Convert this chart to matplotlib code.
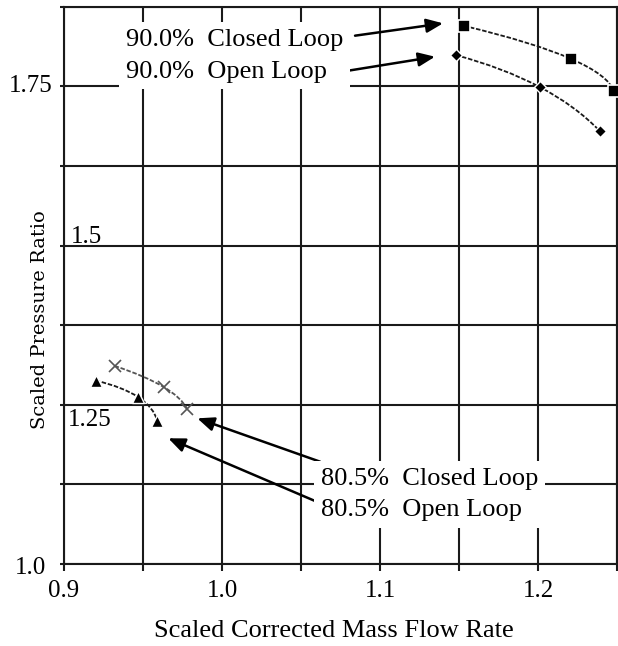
import numpy as np
import matplotlib
matplotlib.use("Agg")
import matplotlib.pyplot as plt
from matplotlib.path import Path
from matplotlib.patches import PathPatch

# compressor map points
closed90_x = [1.153, 1.221, 1.248]
closed90_y = [1.845, 1.793, 1.742]
open90_x = [1.148, 1.201, 1.239]
open90_y = [1.799, 1.749, 1.680]
closed805_x = [0.932, 0.963, 0.978]
closed805_y = [1.311, 1.278, 1.243]
open805_x = [0.920, 0.947, 0.959]
open805_y = [1.288, 1.262, 1.2245]

xtick_vals = [0.9, 1.0, 1.1, 1.2]
xtick_text = ["0.9", "1.0", "1.1", "1.2"]
ytick_vals = [1.0, 1.25, 1.5, 1.75]
ytick_text = ["1.0", "1.25", "1.5", "1.75"]

SERIF = "Liberation Serif"
INK = "#1a1a1a"


def smooth_path(xs, ys):
    # bezier through the points, parabolic ends (like a spreadsheet "smoothed line")
    pts = np.column_stack([xs, ys]).astype(float)
    n = len(pts)
    tang = np.zeros_like(pts)
    for i in range(1, n - 1):
        tang[i] = (pts[i + 1] - pts[i - 1]) / 2.0
    tang[0] = 2 * (pts[1] - pts[0]) - tang[1]
    tang[-1] = 2 * (pts[-1] - pts[-2]) - tang[-2]
    verts = [pts[0]]
    codes = [Path.MOVETO]
    for i in range(n - 1):
        verts += [pts[i] + tang[i] / 3.0, pts[i + 1] - tang[i + 1] / 3.0, pts[i + 1]]
        codes += [Path.CURVE4] * 3
    return Path(verts, codes)


fig = plt.figure(figsize=(6.18, 6.46), dpi=100)
ax = fig.add_axes([64 / 618, 1 - 564 / 646, 553 / 618, 557.3 / 646])

ax.set_xlim(0.9, 1.25)
ax.set_ylim(1.0, 1.875)
ax.set_xticks(np.arange(0.9, 1.2501, 0.05))
ax.set_yticks(np.arange(1.0, 1.8751, 0.125))
ax.grid(True, color=INK, linewidth=1.5)
ax.set_axisbelow(True)
for sp in ax.spines.values():
    sp.set_color(INK)
    sp.set_linewidth(1.5)
ax.tick_params(axis="x", length=5, width=1.5, color=INK, labelbottom=False)
ax.tick_params(axis="y", length=3, width=1.5, color=INK, labelleft=False)

# tick labels, placed like in the original (some sit inside the plot)
for v, t in zip(xtick_vals, xtick_text):
    ax.annotate(t, (v, 1.0), xytext=(0, -27), textcoords="offset pixels",
                ha="center", va="center", fontsize=18, family=SERIF)
y_offsets = [(-34, -4), (26, -15), (22, 9), (-33, 0)]
for v, t, off in zip(ytick_vals, ytick_text, y_offsets):
    ax.annotate(t, (0.9, v), xytext=off, textcoords="offset pixels",
                ha="center", va="center", fontsize=18, family=SERIF)

# curves
for xs, ys, col in [(closed90_x, closed90_y, INK), (open90_x, open90_y, INK),
                    (open805_x, open805_y, INK), (closed805_x, closed805_y, "#555555")]:
    ax.add_patch(PathPatch(smooth_path(xs, ys), fill=False, edgecolor=col,
                           linewidth=1.3, linestyle=(0, (2.5, 1)), zorder=3))

ax.plot(closed90_x, closed90_y, "s", ms=9, color="black", mec="white", mew=1.2, zorder=4, clip_on=False)
ax.plot(open90_x, open90_y, "D", ms=6.5, color="black", mec="white", mew=1.0, zorder=4)
ax.plot(open805_x, open805_y, "^", ms=9, color="black", mec="white", mew=1.0, zorder=4)
ax.plot(closed805_x, closed805_y, "x", ms=8, color="#555555", mew=1.2, zorder=4)

# labels with arrows
arrow = dict(arrowstyle="-|>,head_length=1.0,head_width=0.42", color="black",
             linewidth=1.8, shrinkA=0, shrinkB=0)
ax.annotate("", xy=(1.1399, 1.8489), xytext=(1.0842, 1.8295), arrowprops=arrow, zorder=5)
ax.annotate("", xy=(1.1348, 1.7965), xytext=(1.0758, 1.7729), arrowprops=arrow, zorder=5)
ax.annotate("", xy=(0.9844, 1.2287), xytext=(1.0621, 1.1606), arrowprops=arrow, zorder=5)
ax.annotate("", xy=(0.9660, 1.1974), xytext=(1.0589, 1.0989), arrowprops=arrow, zorder=5)

box = dict(facecolor="white", edgecolor="none", pad=5)
ax.text(0.9392, 1.7978, "90.0%  Closed Loop\n90.0%  Open Loop", fontsize=19, family=SERIF,
        ha="left", va="center", linespacing=1.55, bbox=box, zorder=6)
ax.text(1.0628, 1.1096, "80.5%  Closed Loop\n80.5%  Open Loop", fontsize=19, family=SERIF,
        ha="left", va="center", linespacing=1.55, bbox=box, zorder=6)

fig.text(334 / 618, 1 - 631 / 646, "Scaled Corrected Mass Flow Rate", fontsize=19,
         family=SERIF, ha="center", va="center")
fig.text(40 / 618, 1 - 320 / 646, "Scaled Pressure Ratio", fontsize=14,
         family="DejaVu Serif", rotation=90, ha="center", va="center")

fig.savefig("out.png", dpi=100, facecolor="white")
